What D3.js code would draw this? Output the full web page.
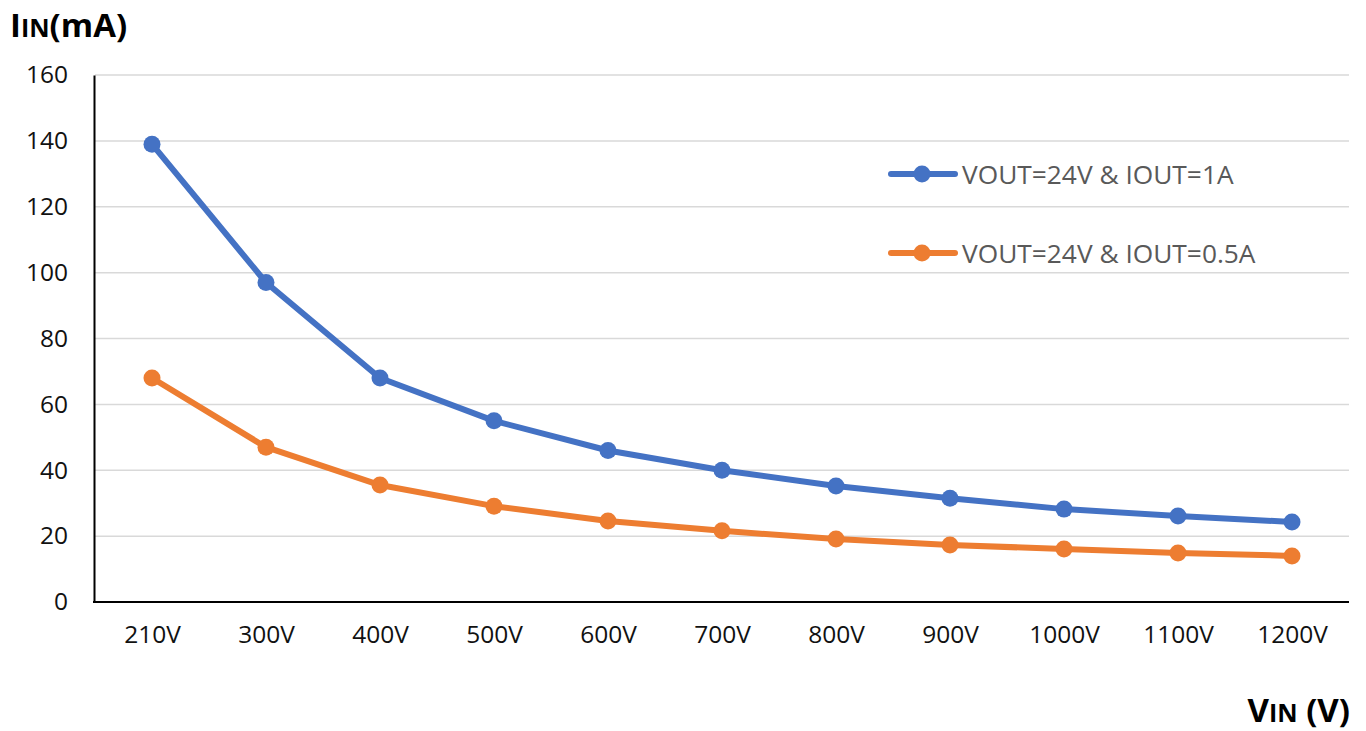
<!DOCTYPE html>
<html><head><meta charset="utf-8">
<script src="https://cdn.jsdelivr.net/npm/d3@7"></script>
<style>body{margin:0;background:#fff;}svg{display:block;font-family:"Open Sans","Liberation Sans",sans-serif;}</style>
</head><body>
<svg id="c" width="1366" height="731"></svg>
<script>
const categories = ["210V","300V","400V","500V","600V","700V","800V","900V","1000V","1100V","1200V"];
const series1 = [139, 97, 68, 55, 46, 40, 35.2, 31.5, 28.2, 26.1, 24.3];
const series2 = [68, 47, 35.5, 29.1, 24.6, 21.6, 19.1, 17.3, 16.1, 14.9, 14];
const seriesNames = ["VOUT=24V & IOUT=1A", "VOUT=24V & IOUT=0.5A"];
const colors = ["#4472C4", "#ED7D31"];
const yTicks = [0,20,40,60,80,100,120,140,160];

const svg = d3.select("#c");
const L = 95, R = 1349, T = 75, B = 602;
const x = d3.scalePoint().domain(categories).range([L, R]).padding(0.5);
const y = d3.scaleLinear().domain([0,160]).range([B, T]);

svg.append("g").selectAll("line").data(yTicks.filter(d=>d>0)).join("line")
  .attr("x1", L).attr("x2", R).attr("y1", d=>y(d)).attr("y2", d=>y(d))
  .attr("stroke", "#d9d9d9").attr("stroke-width", 1.5);

const ya = svg.append("g").attr("transform", `translate(${L-1},0)`).call(d3.axisLeft(y).tickValues(yTicks).tickSize(0).tickPadding(26));
ya.select(".domain").attr("stroke", "#000").attr("stroke-width", 2);
ya.selectAll("text").style("font-size", "24.5px").attr("fill", "#111").style("font-family", "'Open Sans',sans-serif");

const xa = svg.append("g").attr("transform", `translate(0,${B})`).call(d3.axisBottom(x).tickSize(0).tickPadding(24));
xa.select(".domain").attr("stroke", "#000").attr("stroke-width", 2).attr("d", `M${L-2},0H${R}`);
xa.selectAll("text").style("font-size", "24.5px").attr("fill", "#111").style("font-family", "'Open Sans',sans-serif");

const all = [series1, series2];
const line = d3.line().x((d,i)=>x(categories[i])).y(d=>y(d));
all.forEach((s, k) => {
  svg.append("path").datum(s).attr("d", line).attr("fill", "none")
    .attr("stroke", colors[k]).attr("stroke-width", 6).attr("stroke-linejoin", "round").attr("stroke-linecap","round");
  svg.append("g").selectAll("circle").data(s).join("circle")
    .attr("cx", (d,i)=>x(categories[i])).attr("cy", d=>y(d)).attr("r", 8.5).attr("fill", colors[k]);
});

const legY = [174, 253];
seriesNames.forEach((n,k)=>{
  const g = svg.append("g");
  g.append("line").attr("x1", 891).attr("x2", 955).attr("y1", legY[k]).attr("y2", legY[k])
    .attr("stroke", colors[k]).attr("stroke-width", 6).attr("stroke-linecap","round");
  g.append("circle").attr("cx", 922).attr("cy", legY[k]).attr("r", 8.5).attr("fill", colors[k]);
  g.append("text").attr("x", 962).attr("y", legY[k]+9.5).style("font-size", "26.3px").attr("fill", "#595959").text(n);
});

const t1 = svg.append("text").attr("x", 10).attr("y", 37).attr("font-weight", "bold").attr("fill", "#000");
t1.append("tspan").style("font-size", "33px").text("I");
t1.append("tspan").style("font-size", "25px").text("IN");
t1.append("tspan").style("font-size", "33px").text("(mA)");

const t2 = svg.append("text").attr("x", 1350).attr("y", 722).attr("text-anchor", "end").attr("font-weight", "bold").attr("fill", "#000");
t2.append("tspan").style("font-size", "33px").text("V");
t2.append("tspan").style("font-size", "25px").text("IN");
t2.append("tspan").style("font-size", "33px").text(" (V)");
</script>
</body></html>
